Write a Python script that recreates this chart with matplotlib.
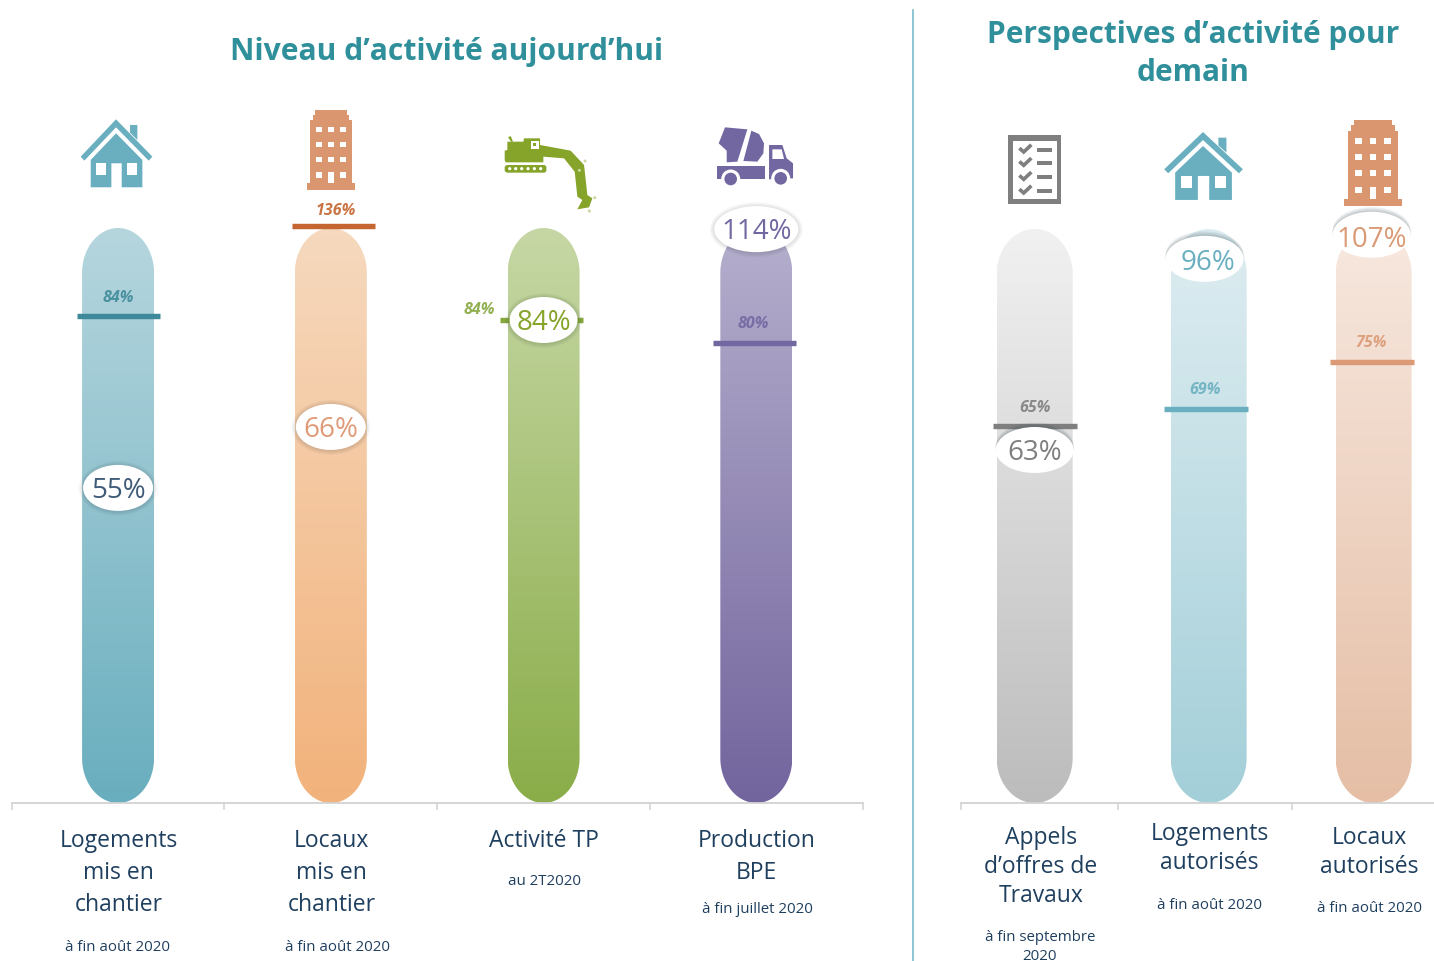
import matplotlib
matplotlib.use('Agg')
import matplotlib.pyplot as plt
import numpy as np
from matplotlib.patches import Ellipse, Polygon, Rectangle, Circle
from matplotlib.path import Path
from matplotlib.colors import to_rgb

plt.rcParams['font.family'] = ['Open Sans', 'Noto Sans', 'DejaVu Sans']

W, H = 1434, 962

# Left panel data
left_names = ['Logements\nmis en\nchantier', 'Locaux\nmis en\nchantier', 'Activité TP', 'Production\nBPE']
left_periods = ['à fin août 2020', 'à fin août 2020', 'au 2T2020', 'à fin juillet 2020']
left_values = ['55%', '66%', '84%', '114%']
left_heights = [54.8, 65.4, 84.0, 99.8]
left_refs = ['84%', '136%', '84%', '80%']
left_ref_heights = [84.7, 100.3, 84.0, 80.0]

# Right panel data
right_names = ['Appels\nd’offres de\nTravaux', 'Logements\nautorisés', 'Locaux\nautorisés']
right_periods = ['à fin septembre\n2020', 'à fin août 2020', 'à fin août 2020']
right_values = ['63%', '96%', '107%']
right_heights = [61.5, 94.8, 99.0]
right_refs = ['65%', '69%', '75%']
right_ref_heights = [65.7, 68.6, 76.8]

# Colours
BLUE, ORANGE, GREEN, PURPLE, GREY, SALMON = '#6AAFBF', '#D9966F', '#86A32A', '#7367A1', '#7F7F7F', '#DB9A75'
left_top = ['#B6D6DE', '#F6D9BE', '#C6D7A5', '#B5AFCD']
left_bottom = ['#69AEBE', '#F2B27B', '#8AAD49', '#72649D']
left_ref_col = ['#3F8A9A', '#C5652F', '#86A83F', '#7367A1']
left_txt_col = ['#3F5B78', '#E09A78', GREEN, PURPLE]
right_top = ['#F1F1F1', '#DEEDF1', '#F7E8DF']
right_bottom = ['#BCBCBC', '#A3CFD9', '#E5BEA5']
right_ref_col = [GREY, BLUE, SALMON]
right_txt_col = [GREY, BLUE, SALMON]
TITLE = '#2F8F9B'
TEXT = '#1F3F5F'
AXIS = '#D2D2D2'

fig = plt.figure(figsize=(W / 100, H / 100), dpi=100, facecolor='white')

def make_axes(x0, x1, y0, y1):
    return fig.add_axes([x0 / W, 1 - y1 / H, (x1 - x0) / W, (y1 - y0) / H])

def bar_shape(x, half, cap):
    # capsule with elliptical ends
    t = np.linspace(0, np.pi, 60)
    top_x = x + half * np.cos(t)
    top_y = 100 - cap + cap * np.sin(t)
    bot_x = x - half * np.cos(t)
    bot_y = cap - cap * np.sin(t)
    return Path(np.column_stack([np.r_[top_x, bot_x, top_x[0]], np.r_[top_y, bot_y, top_y[0]]]), closed=True)

def draw_panel(ax, xpos, heights, refs, ref_heights, values, top, bottom, ref_col, txt_col,
               bar_w, bub_w, ref_w, up_shadow, ref_dx, lab_dx, bub_dx, txt_dx, txt_dy):
    unit_y = ax.get_position().height * H / 100
    unit_x = ax.get_position().width * W / (ax.get_xlim()[1] - ax.get_xlim()[0])
    for i, x in enumerate(xpos):
        half = bar_w / 2 / unit_x
        grad = np.linspace(to_rgb(top[i]), to_rgb(bottom[i]), 256).reshape(256, 1, 3)
        im = ax.imshow(grad, extent=(x - half, x + half, 0, 100), aspect='auto', origin='upper', zorder=2)
        im.set_clip_path(bar_shape(x, half, 45 / unit_y), ax.transData)

        # reference line and its label
        rx = x + ref_dx[i] / unit_x
        ax.plot([rx - ref_w / 2 / unit_x, rx + ref_w / 2 / unit_x], [ref_heights[i]] * 2, color=ref_col[i],
                lw=3.9, solid_capstyle='butt', zorder=3, clip_on=False)
        ax.annotate(refs[i], (rx, ref_heights[i]), xytext=lab_dx[i], textcoords='offset pixels',
                    ha='center', va='center', style='italic', weight='bold', fontsize=11.5,
                    color=ref_col[i], alpha=0.9, annotation_clip=False, zorder=3)

        # white bubble with soft shadow
        bx = x + bub_dx[i] / unit_x
        bw = bub_w[i] / unit_x
        bh = 46 / unit_y
        if up_shadow:
            # only a dark arc along the top edge
            for k in range(1, 7):
                ax.add_patch(Ellipse((bx, heights[i] + k * 0.8 / unit_y), bw, bh, fc='#30474f', ec='none',
                                     alpha=0.05, zorder=4, clip_on=False))
        else:
            for k in range(5):
                grow = (5 - k) * 0.9
                ax.add_patch(Ellipse((bx, heights[i] - 0.5 / unit_y), bw + 2 * grow / unit_x, bh + 2 * grow / unit_y,
                                     fc='black', ec='none', alpha=0.022, zorder=4, clip_on=False))
        ax.add_patch(Ellipse((bx, heights[i]), bw, bh, fc='white', ec='none', zorder=5, clip_on=False))
        ax.annotate(values[i], (x, heights[i]), xytext=(txt_dx[i], txt_dy[i]), textcoords='offset pixels',
                    ha='center', va='center', fontsize=20, color=txt_col[i],
                    annotation_clip=False, zorder=6)

    ax.set_ylim(0, 100)
    for s in ['top', 'left', 'right']:
        ax.spines[s].set_visible(False)
    ax.spines['bottom'].set_color(AXIS)
    ax.spines['bottom'].set_linewidth(1.3)
    ax.set_yticks([])
    ax.set_xticklabels([])
    ax.tick_params(axis='x', length=5, width=1.1, color=AXIS)
    ax.patch.set_alpha(0)

# Left axes: four equal categories
ax1 = make_axes(11.7, 862.7, 229, 804)
ax1.set_xlim(-0.5, 3.5)
ax1.set_xticks([-0.5, 0.5, 1.5, 2.5, 3.5])
draw_panel(ax1, [0, 1, 2, 3], left_heights, left_refs, left_ref_heights, left_values,
           left_top, left_bottom, left_ref_col, left_txt_col,
           bar_w=72, bub_w=[70, 70, 68, 84], ref_w=83, up_shadow=False,
           ref_dx=[0, 2.5, -2, -1.5], lab_dx=[(0, 19), (2, 16), (-62, 11), (-2, 20)],
           bub_dx=[0, 0, 0, 0], txt_dx=[0, 0, 0, 0], txt_dy=[-2, -2, -2, -2])

# Right axes: bars are not quite evenly spaced in the source
ax2 = make_axes(960.7, 1434.7, 230, 804)
ax2.set_xlim(-0.425, 2.299)
ax2.set_xticks([-0.425, 0.477, 1.477])
draw_panel(ax2, [0, 1, 1.948], right_heights, right_refs, right_ref_heights, right_values,
           right_top, right_bottom, right_ref_col, right_txt_col,
           bar_w=76, bub_w=[78, 78, 78], ref_w=84, up_shadow=True,
           ref_dx=[0, -3, -2], lab_dx=[(0, 19), (-1, 20), (0, 20)],
           bub_dx=[0, -4, -2], txt_dx=[0, -1, -2], txt_dy=[-2, -3, -4])

# Overlay in pixel coordinates for titles, labels, divider and icons
ov = fig.add_axes([0, 0, 1, 1], zorder=10)
ov.set_xlim(-0.7, W - 0.7)
ov.set_ylim(H - 1, -1)
ov.axis('off')
ov.patch.set_alpha(0)

ov.plot([912, 912], [10, 962], color='#6FB4C6', lw=1.1)
ov.text(446, 51, 'Niveau d’activité aujourd’hui', ha='center', va='center', fontsize=21.6, weight='bold', color=TITLE)
ov.text(1192, 34, 'Perspectives d’activité pour', ha='center', va='center', fontsize=21.5, weight='bold', color=TITLE)
ov.text(1192, 72, 'demain', ha='center', va='center', fontsize=21.5, weight='bold', color=TITLE)

def labels(names, periods, xs, y0, step, sub_ys, xsub):
    for name, per, x, xs2, ys in zip(names, periods, xs, xsub, sub_ys):
        for j, line in enumerate(name.split('\n')):
            ov.text(x, y0[xs.index(x)] + j * step, line, ha='center', va='center', fontsize=16.5, color=TEXT)
        for j, line in enumerate(per.split('\n')):
            ov.text(xs2, ys + j * 19, line, ha='center', va='center', fontsize=10.8, color=TEXT)

labels(left_names, left_periods, [118, 331, 543, 756], [840, 840, 840, 840], 32,
       [947, 947, 881, 909], [117, 337, 544, 757])
labels(right_names, right_periods, [1040, 1209, 1369], [837, 833, 837], 29,
       [937, 905, 908], [1039, 1209, 1369])

# Icons
def icon(points, x0, y0, sx, sy, color, z=11):
    pts = np.array(points, dtype=float)
    ov.add_patch(Polygon(np.column_stack([x0 + pts[:, 0] * sx, y0 + pts[:, 1] * sy]), closed=True,
                         fc=color, ec='none', zorder=z))

def house(x0, y0, sx, sy, color):
    icon([(106, 0), (215, 112), (204, 124), (106, 24), (11, 124), (0, 112)], x0, y0, sx, sy, color)
    icon([(148, 17), (170, 17), (170, 62), (148, 40)], x0, y0, sx, sy, color)
    icon([(106, 42), (185, 122), (185, 204), (123, 204), (123, 132), (92, 132), (92, 204), (30, 204), (30, 122)],
         x0, y0, sx, sy, color)
    for wx in (45, 138):
        icon([(wx, 132), (wx + 32, 132), (wx + 32, 167), (wx, 167)], x0, y0, sx, sy, 'white', 12)

def building(x0, y0, sx, sy, color):
    icon([(25, 0), (120, 0), (120, 15), (128, 15), (128, 30), (135, 30), (135, 220), (145, 220), (145, 240),
          (0, 240), (0, 220), (10, 220), (10, 30), (18, 30), (18, 15), (25, 15)], x0, y0, sx, sy, color)
    for r, wy in enumerate((50, 95, 140, 186)):
        for wx in (28, 64, 100):
            bot = wy + 17 if not (r == 3 and wx == 64) else wy + 34
            icon([(wx, wy), (wx + 17, wy), (wx + 17, bot), (wx, bot)], x0, y0, sx, sy, 'white', 12)

house(80, 119.3, 1 / 3, 1 / 3, BLUE)
house(1163.5, 132, 0.366, 0.333, BLUE)
building(306, 110, 1 / 3, 1 / 3, ORANGE)
building(1343.5, 120, 0.398, 0.358, ORANGE)

# Excavator
ex, ey, es = 480, 100, 1 / 3
icon([(72, 152), (80, 150), (80, 125), (128, 125), (130, 115), (178, 115), (178, 135), (270, 152), (310, 195),
      (320, 285), (335, 295), (325, 322), (290, 328), (305, 300), (290, 290), (282, 215), (250, 175), (188, 170),
      (188, 187), (75, 187), (72, 180)], ex, ey, es, es, GREEN)
icon([(72, 200), (78, 195), (192, 195), (197, 200), (197, 213), (192, 218), (78, 218), (72, 213)], ex, ey, es, es, GREEN)
icon([(150, 122), (175, 122), (175, 147), (150, 147)], ex, ey, es, es, 'white', 12)
icon([(158, 130), (167, 130), (167, 139), (158, 139)], ex, ey, es, es, GREEN, 13)
icon([(82, 112), (90, 108), (97, 125), (91, 125)], ex, ey, es, es, GREEN)
for cx in (87, 105, 123, 142, 161, 180):
    ov.add_patch(Circle((ex + cx * es, ey + 206 * es), 1.6, fc='white', ec='none', zorder=12))
for cx, cy in ((313, 183), (342, 293), (326, 333), (296, 211)):
    ov.add_patch(Circle((ex + cx * es, ey + cy * es), 1.5, fc='#C9D89F', ec='none', zorder=12))

# Mixer truck
icon([(733, 82), (800, 88), (770, 185), (738, 187), (738, 152), (714, 130)], ex, ey, es, es, PURPLE)
icon([(812, 92), (835, 102), (850, 130), (848, 160), (830, 185), (788, 183)], ex, ey, es, es, PURPLE)
icon([(708, 198), (853, 198), (853, 238), (708, 238)], ex, ey, es, es, PURPLE)
icon([(865, 135), (905, 135), (918, 175), (937, 190), (937, 235), (865, 238)], ex, ey, es, es, PURPLE)
icon([(875, 148), (903, 148), (910, 177), (875, 177)], ex, ey, es, es, 'white', 12)
for cx, cy in ((750, 237), (900, 235)):
    ov.add_patch(Circle((ex + cx * es, ey + cy * es), 9.5, fc='white', ec='none', zorder=12))
    ov.add_patch(Circle((ex + cx * es, ey + cy * es), 6.3, fc=PURPLE, ec='none', zorder=13))

# Checklist
cx0, cy0, cs = 970, 110, 1 / 3
icon([(113, 76), (272, 76), (272, 283), (113, 283)], cx0, cy0, cs, cs, GREY)
icon([(128, 92), (258, 92), (258, 268), (128, 268)], cx0, cy0, cs, cs, 'white', 12)
for cy in (118, 158, 200, 241):
    ov.plot([cx0 + 150 * cs, cx0 + 159 * cs, cx0 + 178 * cs],
            [cy0 + cy * cs, cy0 + (cy + 8) * cs, cy0 + (cy - 10) * cs], color=GREY, lw=2.6, zorder=13,
            solid_joinstyle='miter')
    ov.add_patch(Rectangle((cx0 + 198 * cs, cy0 + (cy - 4) * cs), 45 * cs, 11 * cs, fc=GREY, ec='none', zorder=13))

fig.savefig('out.png', dpi=100, facecolor='white')
